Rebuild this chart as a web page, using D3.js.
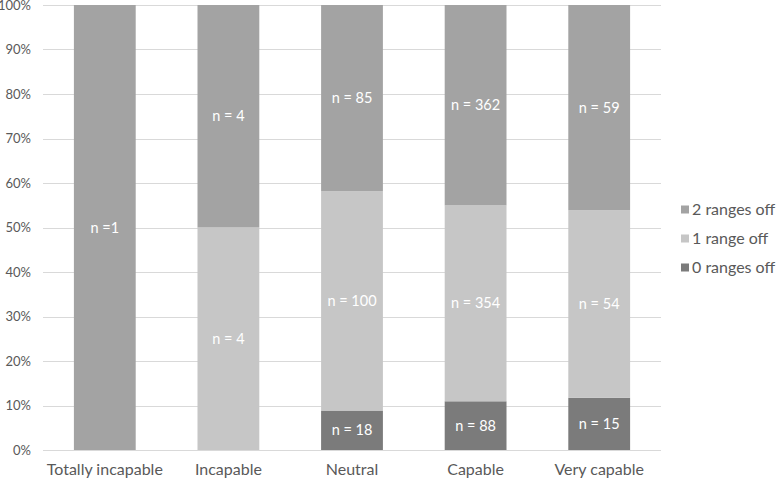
<!DOCTYPE html>
<html><head><meta charset="utf-8">
<script src="https://cdn.jsdelivr.net/npm/d3@7"></script>
<style>body{margin:0;background:#fff}svg{display:block}</style>
</head><body>
<script>
const categories = ["Totally incapable","Incapable","Neutral","Capable","Very capable"];
const seriesNames = ["0 ranges off","1 range off","2 ranges off"];
const zeroOff = [0,0,18,88,15];
const oneOff = [0,4,100,354,54];
const twoOff = [1,4,85,362,59];
const labelsZero = ["","","n = 18","n = 88","n = 15"];
const labelsOne = ["","n = 4","n = 100","n = 354","n = 54"];
const labelsTwo = ["n =1","n = 4","n = 85","n = 362","n = 59"];
const yTicks = [0,0.1,0.2,0.3,0.4,0.5,0.6,0.7,0.8,0.9,1];
const colors = {"0 ranges off":"#7b7b7b","1 range off":"#c6c6c6","2 ranges off":"#a3a3a3"};

const W=778,H=479;
const svg=d3.select("body").append("svg").attr("width",W).attr("height",H);
const font="Lato, 'Open Sans', sans-serif";
const x=d3.scaleBand().domain(categories).range([43,661]).paddingInner(0.5).paddingOuter(0.25);
const y=d3.scaleLinear().domain([0,1]).range([450,5]);

// gridlines
svg.append("g").selectAll("line").data(yTicks).join("line")
  .attr("x1",43).attr("x2",661).attr("y1",d=>Math.round(y(d))+0.5).attr("y2",d=>Math.round(y(d))+0.5)
  .attr("stroke","#d9d9d9").attr("stroke-width",1);

const yAxis=d3.axisLeft(y).tickValues(yTicks).tickFormat(d3.format(".0%")).tickSize(0).tickPadding(0);
const ga=svg.append("g").attr("transform","translate(31,0)").call(yAxis);
ga.select(".domain").remove();
ga.selectAll("text").attr("fill","#595959").style("font-family",font).style("font-size","13px");

const rows=categories.map((c,i)=>({cat:c,"0 ranges off":zeroOff[i],"1 range off":oneOff[i],"2 ranges off":twoOff[i],total:zeroOff[i]+oneOff[i]+twoOff[i]}));
const norm=rows.map(r=>({cat:r.cat,"0 ranges off":r["0 ranges off"]/r.total,"1 range off":r["1 range off"]/r.total,"2 ranges off":r["2 ranges off"]/r.total}));
const stack=d3.stack().keys(seriesNames)(norm);
const labelSets={"0 ranges off":labelsZero,"1 range off":labelsOne,"2 ranges off":labelsTwo};

stack.forEach(s=>{
  const g=svg.append("g");
  g.selectAll("rect").data(s).join("rect")
    .attr("x",d=>x(d.data.cat)).attr("width",x.bandwidth())
    .attr("y",d=>y(d[1])).attr("height",d=>y(d[0])-y(d[1]))
    .attr("fill",colors[s.key]);
  g.selectAll("text").data(s).join("text")
    .attr("x",d=>x(d.data.cat)+x.bandwidth()/2)
    .attr("y",d=>(y(d[0])+y(d[1]))/2)
    .attr("dy","0.35em").attr("text-anchor","middle")
    .attr("fill","#fff").style("font-family",font).style("font-size","14.5px")
    .text((d,i)=>labelSets[s.key][i]);
});

// x labels
const xAxis=d3.axisBottom(x).tickSize(0).tickPadding(0);
const gx=svg.append("g").attr("transform","translate(0,464)").call(xAxis);
gx.select(".domain").remove();
gx.selectAll("text").attr("fill","#595959").style("font-family",font).style("font-size","16px");

// legend
const legendItems=["2 ranges off","1 range off","0 ranges off"];
const lg=svg.append("g").selectAll("g").data(legendItems).join("g")
  .attr("transform",(d,i)=>`translate(681,${209.5+i*29})`);
lg.append("rect").attr("x",0).attr("y",-4).attr("width",8).attr("height",8).attr("fill",d=>colors[d]);
lg.append("text").attr("x",11).attr("dy","0.35em").attr("fill","#595959")
  .style("font-family",font).style("font-size","16px").text(d=>d);
</script>
</body></html>
